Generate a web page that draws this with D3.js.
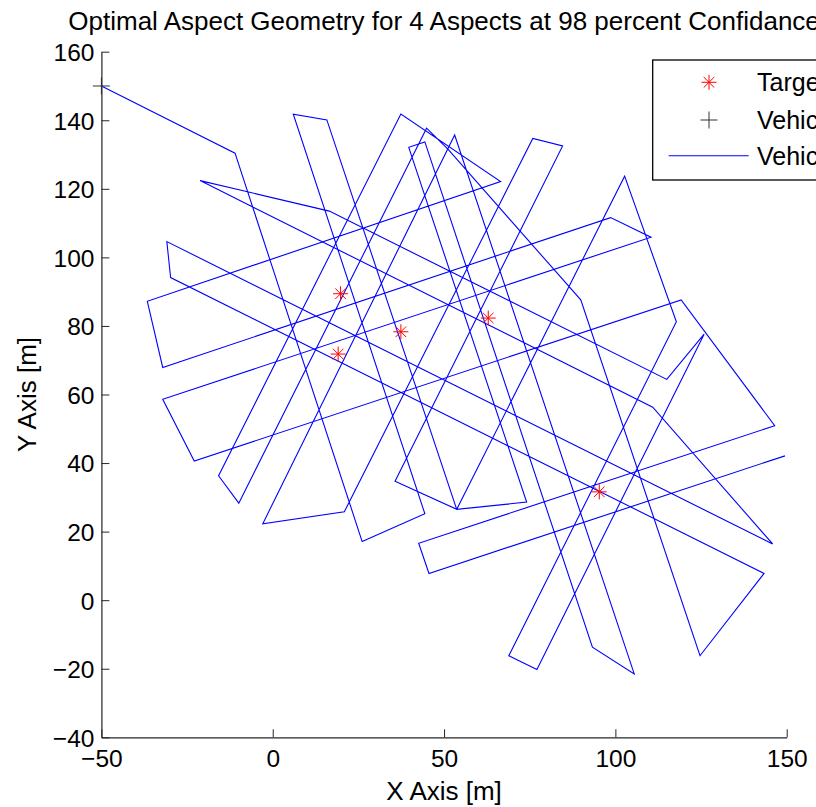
<!DOCTYPE html>
<html>
<head>
<meta charset="utf-8">
<script src="https://cdn.jsdelivr.net/npm/d3@7"></script>
<style>
  body { margin: 0; background: #fff; }
  svg text { font-family: "Liberation Sans", Arial, Helvetica, sans-serif; fill: #000; }
</style>
</head>
<body>
<div id="chart"></div>
<script>
// axis ticks
const xTicks = [-50, 0, 50, 100, 150];
const yTicks = [-40, -20, 0, 20, 40, 60, 80, 100, 120, 140, 160];

// targets (red stars)
const targetX = [19.8, 19.1, 37.4, 62.9, 95.3];
const targetY = [89.4, 71.8, 78.3, 82.3, 31.6];

// vehicle start
const startX = [-50];
const startY = [150];

// vehicle path vertices, in travel order
const pathX = [-50, -11.0, 26.1, 44.4, 6.0, 15.8, 53.7, 74.1, 39.7, 44.4,
  93.3, 105.5, 53.1, -2.9, 20.9, 75.9, 84.6, 35.7, 53.7, 102.7,
  117.8, 68.9, 77.1, 125.9, 115.0, 16.5, -21.2, 110.9, 145.9, -30.9,
  -29.8, 143.4, 124.7, 89.9, 51.2, 44.9, -9.9, -15.8, 37.4, 66.5,
  -36.6, -32.1, 98.6, 110.4, -32.1, -22.9, 119.2, 146.5, 42.6, 45.6, 149.5];
const pathY = [150, 130.4, 17.1, 25.2, 141.8, 140.1, 26.5, 28.6, 132.1, 133.7,
  -13.7, -21.5, 135.7, 22.3, 25.8, 134.7, 132.5, 34.7, 26.5, 123.7,
  81.2, -16.2, -20.2, 77.6, 64.4, 113.5, 122.4, 56.3, 16.4, 104.6,
  94.1, 7.8, -16.2, 87.6, 131.5, 137.7, 28.3, 36.3, 141.8, 122.1,
  87.2, 67.9, 111.6, 105.9, 58.6, 40.6, 87.6, 50.9, 16.6, 7.8, 42.1];

const legendLabels = ['Targets', 'Vehicle Start', 'Vehicle Path'];

const width = 816, height = 807;
const margin = { top: 51.7, right: 29.3, bottom: 69.7, left: 101.4 };

const svg = d3.select('#chart')
  .append('svg')
  .attr('width', width)
  .attr('height', height);

svg.append('rect').attr('width', width).attr('height', height).attr('fill', '#fff');

const x = d3.scaleLinear().domain([-50, 150]).range([margin.left, width - margin.right]);
const y = d3.scaleLinear().domain([-40, 160]).range([height - margin.bottom, margin.top]);

// clip to axes
svg.append('defs').append('clipPath').attr('id', 'plotClip')
  .append('rect')
  .attr('x', x(-50)).attr('y', y(160))
  .attr('width', x(150) - x(-50)).attr('height', y(-40) - y(160));

// path
const pts = pathX.map((d, i) => [d, pathY[i]]);
const line = d3.line().x(d => x(d[0])).y(d => y(d[1]));

svg.append('path')
  .datum(pts)
  .attr('clip-path', 'url(#plotClip)')
  .attr('fill', 'none')
  .attr('stroke', '#0000ff')
  .attr('stroke-width', 1.1)
  .attr('stroke-linejoin', 'miter')
  .attr('d', line);

const starPath = 'M-7.5,0H7.5M0,-7.5V7.5M-5.3,-5.3L5.3,5.3M-5.3,5.3L5.3,-5.3';
const plusPath = 'M-8.5,0H8.5M0,-8.5V8.5';

// targets
svg.append('g').selectAll('path')
  .data(targetX.map((d, i) => [d, targetY[i]]))
  .join('path')
  .attr('transform', d => `translate(${x(d[0])},${y(d[1])})`)
  .attr('d', starPath)
  .attr('fill', 'none')
  .attr('stroke', '#ff0000')
  .attr('stroke-width', 1);

// start
svg.append('g').selectAll('path')
  .data(startX.map((d, i) => [d, startY[i]]))
  .join('path')
  .attr('transform', d => `translate(${x(d[0])},${y(d[1])})`)
  .attr('d', plusPath)
  .attr('fill', 'none')
  .attr('stroke', '#333')
  .attr('stroke-width', 1);

// axes
const xAxis = svg.append('g')
  .attr('transform', `translate(0,${y(-40)})`)
  .call(d3.axisBottom(x).tickValues(xTicks).tickSizeInner(-8).tickSizeOuter(0).tickPadding(12).tickFormat(d3.format('d')));
const yAxis = svg.append('g')
  .attr('transform', `translate(${x(-50)},0)`)
  .call(d3.axisLeft(y).tickValues(yTicks).tickSizeInner(-8).tickSizeOuter(0).tickPadding(7).tickFormat(d3.format('d')));

[xAxis, yAxis].forEach(g => {
  g.selectAll('path.domain').attr('stroke', '#262626').attr('stroke-width', 1.2);
  g.selectAll('line').attr('stroke', '#262626');
  g.selectAll('text').style('font-size', '24.5px').attr('fill', '#000');
});
yAxis.selectAll('text').attr('dy', '0.36em');

// labels
svg.append('text')
  .attr('x', (x(-50) + x(150)) / 2)
  .attr('y', 30)
  .attr('text-anchor', 'middle')
  .style('font-size', '26px')
  .text('Optimal Aspect Geometry for 4 Aspects at 98 percent Confidance');

svg.append('text')
  .attr('x', (x(-50) + x(150)) / 2)
  .attr('y', 800)
  .attr('text-anchor', 'middle')
  .style('font-size', '26px')
  .text('X Axis [m]');

svg.append('text')
  .attr('transform', `translate(36,${(y(-40) + y(160)) / 2}) rotate(-90)`)
  .attr('text-anchor', 'middle')
  .style('font-size', '26px')
  .text('Y Axis [m]');

// legend
const legend = svg.append('g');
legend.append('rect')
  .attr('x', 652.7).attr('y', 60)
  .attr('width', 300).attr('height', 120)
  .attr('fill', '#fff')
  .attr('stroke', '#000')
  .attr('stroke-width', 1.3);

const rowY = [82.3, 120, 155.7];
legend.append('path')
  .attr('transform', `translate(709,${rowY[0]})`)
  .attr('d', starPath).attr('fill', 'none').attr('stroke', '#ff0000');
legend.append('path')
  .attr('transform', `translate(709,${rowY[1]})`)
  .attr('d', plusPath).attr('fill', 'none').attr('stroke', '#333');
legend.append('line')
  .attr('x1', 668.7).attr('x2', 748.7)
  .attr('y1', rowY[2]).attr('y2', rowY[2])
  .attr('stroke', '#0000ff').attr('stroke-width', 1.1);

legend.selectAll('text.lbl')
  .data(legendLabels)
  .join('text')
  .attr('class', 'lbl')
  .attr('x', 757)
  .attr('y', (d, i) => rowY[i] + 9)
  .style('font-size', '25px')
  .text(d => d);
</script>
</body>
</html>
